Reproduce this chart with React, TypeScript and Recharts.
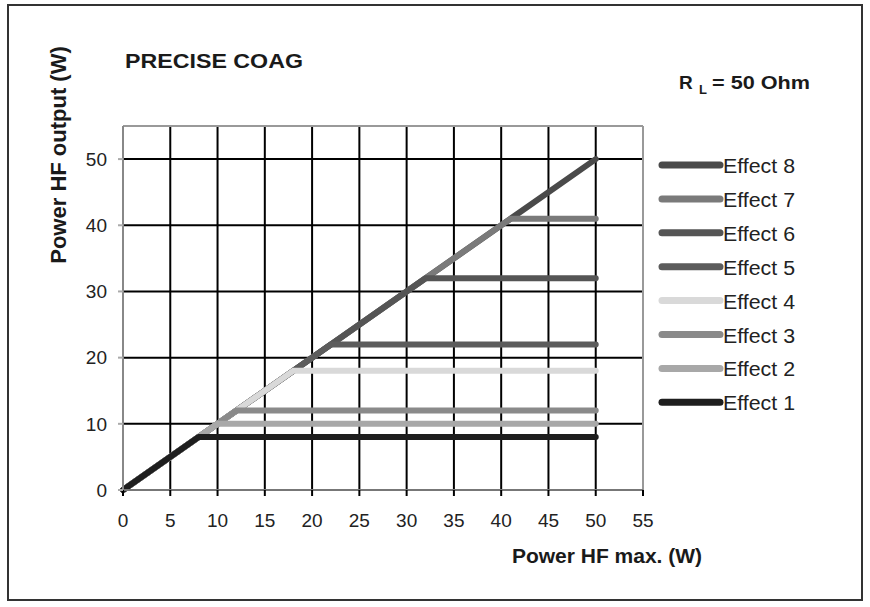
import React from 'react';
import { LineChart, Line, XAxis, YAxis, CartesianGrid, ReferenceLine } from 'recharts';

const xTicks = [0, 5, 10, 15, 20, 25, 30, 35, 40, 45, 50, 55];
const yTicks = [0, 10, 20, 30, 40, 50];

const effect8 = [{ x: 0, y: 0 }, { x: 50, y: 50 }, { x: 50, y: 50 }];
const effect7 = [{ x: 0, y: 0 }, { x: 41, y: 41 }, { x: 50, y: 41 }];
const effect6 = [{ x: 0, y: 0 }, { x: 32, y: 32 }, { x: 50, y: 32 }];
const effect5 = [{ x: 0, y: 0 }, { x: 22, y: 22 }, { x: 50, y: 22 }];
const effect4 = [{ x: 0, y: 0 }, { x: 18, y: 18 }, { x: 50, y: 18 }];
const effect3 = [{ x: 0, y: 0 }, { x: 12, y: 12 }, { x: 50, y: 12 }];
const effect2 = [{ x: 0, y: 0 }, { x: 10, y: 10 }, { x: 50, y: 10 }];
const effect1 = [{ x: 0, y: 0 }, { x: 8, y: 8 }, { x: 50, y: 8 }];

const seriesNames = ['Effect 8', 'Effect 7', 'Effect 6', 'Effect 5', 'Effect 4', 'Effect 3', 'Effect 2', 'Effect 1'];
const seriesData = [effect8, effect7, effect6, effect5, effect4, effect3, effect2, effect1];
const seriesColors = ['#4a4a4a', '#7a7a7a', '#555555', '#5c5c5c', '#d9d9d9', '#8a8a8a', '#a8a8a8', '#1e1e1e'];

const FONT = 'Arial, "Liberation Sans", Helvetica, sans-serif';

export default function App() {
  return (
    <div style={{ position: 'absolute', left: 0, top: 0, width: 870, height: 607, background: '#fff' }}>
      <svg width={870} height={607} style={{ position: 'absolute', left: 0, top: 0 }}>
        <rect x={8} y={5} width={854} height={595} fill="#fff" stroke="#333" strokeWidth={2} />
        <text x={125} y={68} fontSize={21} fontWeight="bold" fontFamily={FONT} fill="#1a1a1a"
          textLength={178} lengthAdjust="spacingAndGlyphs">PRECISE COAG</text>
        <text x={679} y={89} fontSize={19} fontWeight="bold" fontFamily={FONT} fill="#1a1a1a">R</text>
        <text x={699} y={94} fontSize={13} fontWeight="bold" fontFamily={FONT} fill="#1a1a1a">L</text>
        <text x={712} y={89} fontSize={19} fontWeight="bold" fontFamily={FONT} fill="#1a1a1a"
          textLength={98} lengthAdjust="spacingAndGlyphs">= 50 Ohm</text>
        <text x={607} y={563} fontSize={21} fontWeight="bold" fontFamily={FONT} fill="#1a1a1a" textAnchor="middle">Power HF max. (W)</text>
        <text x={0} y={0} fontSize={22} fontWeight="bold" fontFamily={FONT} fill="#1a1a1a" textAnchor="middle"
          transform="translate(66,155) rotate(-90)">Power HF output (W)</text>
        {seriesNames.map((name, i) => {
          const cy = 165 + i * 33.9;
          return (
            <g key={name}>
              <line x1={662} y1={cy} x2={720} y2={cy} stroke={seriesColors[i]} strokeWidth={7} strokeLinecap="round" />
              <text x={723} y={cy + 8} fontSize={20} fontFamily={FONT} fill="#222"
                textLength={72} lengthAdjust="spacingAndGlyphs">{name}</text>
            </g>
          );
        })}
      </svg>
      <div style={{ position: 'absolute', left: 0, top: 0 }}>
        <LineChart width={870} height={607} margin={{ top: 126, right: 227, bottom: 77, left: 63 }}>
          <CartesianGrid stroke="#000" strokeWidth={2} />
          <XAxis
            type="number"
            dataKey="x"
            domain={[0, 55]}
            ticks={xTicks}
            interval={0}
            height={40}
            stroke="#777"
            strokeWidth={2}
            tickSize={6}
            tickMargin={18}
            tickLine={{ stroke: '#000', strokeWidth: 2 }}
            tick={{ fontSize: 19, fontFamily: FONT, fill: '#222' }}
          />
          <YAxis
            type="number"
            domain={[0, 55]}
            ticks={yTicks}
            interval={0}
            width={60}
            stroke="#888"
            strokeWidth={2}
            tickSize={5}
            tickMargin={11}
            tickLine={{ stroke: '#aaa', strokeWidth: 2 }}
            tick={{ fontSize: 19, fontFamily: FONT, fill: '#222' }}
          />
          <ReferenceLine y={55} stroke="#999" strokeWidth={2} />
          <ReferenceLine x={55} stroke="#999" strokeWidth={2} />
          {seriesNames.map((name, i) => (
            <Line
              key={name}
              name={name}
              data={seriesData[i]}
              dataKey="y"
              type="linear"
              stroke={seriesColors[i]}
              strokeWidth={6}
              strokeLinecap="round"
              strokeLinejoin="round"
              dot={false}
              activeDot={false}
              isAnimationActive={false}
            />
          ))}
        </LineChart>
      </div>
    </div>
  );
}
